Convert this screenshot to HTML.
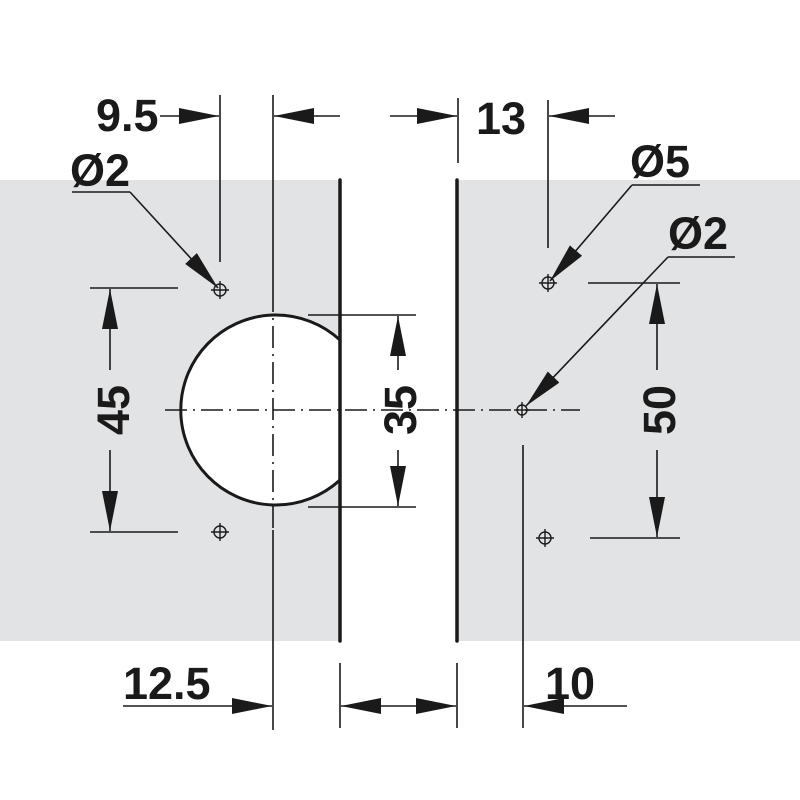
<!DOCTYPE html>
<html><head><style>body{margin:0;background:#fff}svg{display:block}</style></head><body>
<svg width="800" height="800" viewBox="0 0 800 800" xmlns="http://www.w3.org/2000/svg" font-family="Liberation Sans, Arial, sans-serif" font-weight="bold">
<defs>
<marker id="a" viewBox="0 0 40 16" refX="40" refY="8" markerWidth="40" markerHeight="16" markerUnits="userSpaceOnUse" orient="auto"><path d="M0,0 L40,8 L0,16 Z" fill="#1a1a1a"/></marker>
</defs>
<rect x="0" y="180" width="800" height="461" fill="#e2e3e5"/>
<rect x="341" y="180" width="116" height="461" fill="#fff"/>
<g stroke="#1a1a1a" fill="none">
<path d="M340,340 A95,95 0 1 0 340,480" fill="#fff" stroke-width="3"/>
<line x1="340" y1="180" x2="340" y2="641" stroke-width="3.5" stroke-linecap="round"/>
<line x1="457" y1="180" x2="457" y2="641" stroke-width="3.5" stroke-linecap="round"/>
<g stroke-width="1.6">
<line x1="220" y1="95" x2="220" y2="262"/>
<line x1="273" y1="95" x2="273" y2="290"/>
<line x1="273" y1="290" x2="273" y2="530" stroke-dasharray="22,6,2,6"/>
<line x1="273" y1="530" x2="273" y2="730"/>
<line x1="458" y1="98" x2="458" y2="163"/>
<line x1="548" y1="100" x2="548" y2="248"/>
<line x1="523" y1="445" x2="523" y2="728"/>
<line x1="340" y1="663" x2="340" y2="728"/>
<line x1="457" y1="663" x2="457" y2="728"/>
<line x1="165" y1="410" x2="580" y2="410" stroke-dasharray="22,6,2,6"/>
<line x1="160" y1="116" x2="219" y2="116" marker-end="url(#a)"/>
<line x1="340" y1="116" x2="274" y2="116" marker-end="url(#a)"/>
<line x1="390" y1="116" x2="457" y2="116" marker-end="url(#a)"/>
<line x1="615" y1="116" x2="549" y2="116" marker-end="url(#a)"/>
<line x1="123" y1="706" x2="272" y2="706" marker-end="url(#a)"/>
<line x1="398" y1="706" x2="341" y2="706" marker-end="url(#a)"/>
<line x1="398" y1="706" x2="456" y2="706" marker-end="url(#a)"/>
<line x1="627" y1="706" x2="524" y2="706" marker-end="url(#a)"/>
<line x1="90" y1="288" x2="178" y2="288"/><line x1="90" y1="532" x2="178" y2="532"/>
<line x1="110" y1="370" x2="110" y2="289" marker-end="url(#a)"/>
<line x1="110" y1="450" x2="110" y2="531" marker-end="url(#a)"/>
<line x1="308" y1="315" x2="416" y2="315"/><line x1="308" y1="507" x2="416" y2="507"/>
<line x1="398" y1="370" x2="398" y2="316" marker-end="url(#a)"/>
<line x1="398" y1="450" x2="398" y2="506" marker-end="url(#a)"/>
<line x1="588" y1="283" x2="680" y2="283"/><line x1="590" y1="538" x2="680" y2="538"/>
<line x1="657" y1="370" x2="657" y2="284" marker-end="url(#a)"/>
<line x1="657" y1="450" x2="657" y2="537" marker-end="url(#a)"/>
<polyline points="72,192 130,192"/>
<path d="M130,192 L218,288" marker-end="url(#a)"/>
<polyline points="700,185 632,185"/>
<path d="M632,185 L550,281" marker-end="url(#a)"/>
<polyline points="735,257 668,257"/>
<path d="M668,257 L526,406" marker-end="url(#a)"/>
<g stroke-width="1.4">
<circle cx="220" cy="290" r="6"/><line x1="211" y1="290" x2="229" y2="290"/><line x1="220" y1="281" x2="220" y2="299"/>
<circle cx="548" cy="283" r="6"/><line x1="539" y1="283" x2="557" y2="283"/><line x1="548" y1="274" x2="548" y2="292"/>
<circle cx="220" cy="532" r="6"/><line x1="211" y1="532" x2="229" y2="532"/><line x1="220" y1="523" x2="220" y2="541"/>
<circle cx="545" cy="538" r="6"/><line x1="536" y1="538" x2="554" y2="538"/><line x1="545" y1="529" x2="545" y2="547"/>
<circle cx="522" cy="410" r="5"/><line x1="514" y1="410" x2="530" y2="410"/><line x1="522" y1="402" x2="522" y2="418"/>
</g>
</g>
</g>
<g fill="#1a1a1a" font-size="45">
<text x="96" y="131">9.5</text>
<text x="476" y="134">13</text>
<text x="70" y="186">Ø2</text>
<text x="630" y="177">Ø5</text>
<text x="668" y="249">Ø2</text>
<text x="123" y="699">12.5</text>
<text x="545" y="699">10</text>
<text transform="translate(129,410) rotate(-90)" text-anchor="middle">45</text>
<text transform="translate(416,410) rotate(-90)" text-anchor="middle">35</text>
<text transform="translate(675,410) rotate(-90)" text-anchor="middle">50</text>
</g>
</svg>
</body></html>
